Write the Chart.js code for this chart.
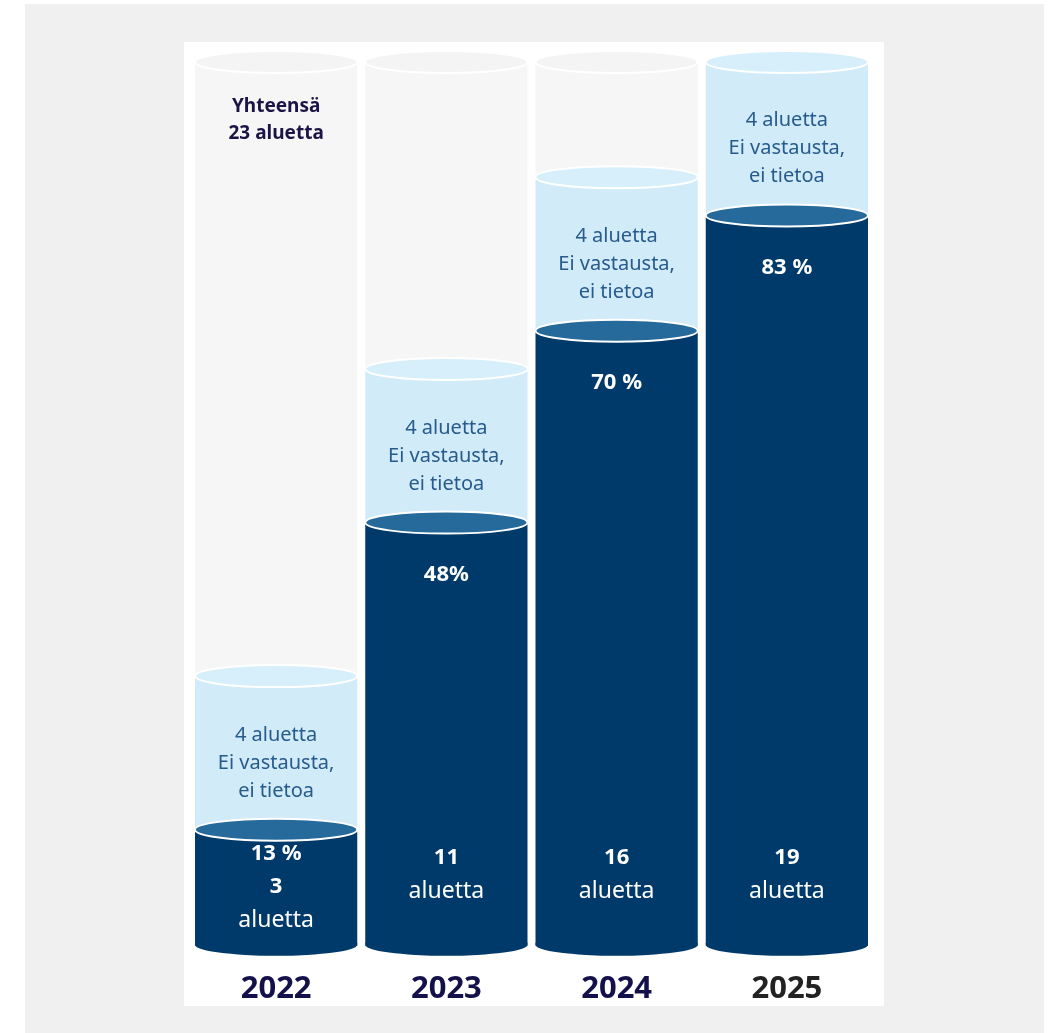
<!DOCTYPE html>
<html lang="fi">
<head>
<meta charset="utf-8">
<title>Alueet 2022–2025</title>
<script src="https://cdn.jsdelivr.net/npm/chart.js@4.4.1/dist/chart.umd.min.js"></script>
<style>
  html, body { margin: 0; padding: 0; background: #ffffff; }
  #frame {
    position: absolute; left: 25px; top: 4px; width: 1019px; height: 1029px;
    background: #f0f0f0;
  }
  #panel {
    position: absolute; left: 184px; top: 42px; width: 700px; height: 964px;
    background: #ffffff;
  }
</style>
</head>
<body>
<div id="frame"></div>
<div id="panel"><canvas id="cylChart"></canvas></div>
<script>
// Vuodet ja alueiden määrät
var years = ["2022", "2023", "2024", "2025"];
var total = 23;
var answered = [3, 11, 16, 19];
var noAnswer = [4, 4, 4, 4];
var percentLabels = ["13 %", "48%", "70 %", "83 %"];

// loput kokonaismäärästä
var rest = years.map(function (y, i) { return total - answered[i] - noAnswer[i]; });

var DARK = "#003a6b";
var DARK_CAP = "#256a9a";
var LIGHT = "#d1ebf9";
var LIGHT_CAP = "#d6effb";
var GRAY = "#f6f6f6";
var GRAY_CAP = "#f4f4f4";

var capColors = [DARK_CAP, LIGHT_CAP, GRAY_CAP];
var RY = 11;

function ellipse(c, x, y, rx, ry) {
  c.beginPath();
  c.ellipse(x, y, rx, ry, 0, 0, Math.PI * 2);
}

// sylinterin kannet ja pohjat
var cylinders = {
  id: "cylinders",
  afterDatasetsDraw: function (chart) {
    var c = chart.ctx;
    c.save();
    var n = chart.data.labels.length;
    for (var i = 0; i < n; i++) {
      // pohja
      var base = chart.getDatasetMeta(0).data[i];
      var rx = base.width / 2;
      c.fillStyle = DARK;
      c.fillRect(base.x - rx, base.base - 2, rx * 2, 3);
      c.beginPath();
      c.ellipse(base.x, base.base, rx, RY, 0, 0, Math.PI);
      c.fill();
      // kannet alhaalta ylös
      for (var d = 0; d < chart.data.datasets.length; d++) {
        var v = chart.data.datasets[d].data[i];
        if (!v) continue;
        var el = chart.getDatasetMeta(d).data[i];
        ellipse(c, el.x, el.y, rx, RY);
        c.fillStyle = capColors[d];
        c.fill();
        c.lineWidth = 2;
        c.strokeStyle = "#ffffff";
        c.stroke();
      }
    }
    c.restore();
  }
};

// tekstit sylintereissä
var texts = {
  id: "texts",
  afterDraw: function (chart) {
    var c = chart.ctx;
    c.save();
    c.textAlign = "center";
    c.textBaseline = "middle";
    var dark = chart.getDatasetMeta(0).data;
    var light = chart.getDatasetMeta(1).data;
    var top = chart.getDatasetMeta(2).data;

    // yhteensä
    c.fillStyle = "#1b1446";
    c.font = "bold 19px 'Noto Sans'";
    c.fillText("Yhteensä", top[0].x, top[0].y + 45);
    c.fillText(total + " aluetta", top[0].x, top[0].y + 72);

    for (var i = 0; i < dark.length; i++) {
      var x = dark[i].x;
      // ei vastausta
      var mid = (light[i].y + light[i].base) / 2 + 10;
      c.fillStyle = "#265b8c";
      c.font = "20px 'Noto Sans'";
      c.fillText(noAnswer[i] + " aluetta", x, mid - 28);
      c.fillText("Ei vastausta,", x, mid);
      c.fillText("ei tietoa", x, mid + 28);

      // vastanneet
      c.fillStyle = "#ffffff";
      var b = dark[i].base;
      var t = dark[i].y;
      if (b - t < 200) {
        var m = (b + t) / 2;
        c.font = "bold 22px 'Noto Sans'";
        c.fillText(percentLabels[i], x, m - 33);
        c.fillText(String(answered[i]), x, m);
        c.font = "23px 'Noto Sans'";
        c.fillText("aluetta", x, m + 33);
      } else {
        c.font = "bold 22px 'Noto Sans'";
        c.fillText(percentLabels[i], x, t + 52);
        c.fillText(String(answered[i]), x, b - 87);
        c.font = "23px 'Noto Sans'";
        c.fillText("aluetta", x, b - 53);
      }
    }
    c.restore();
  }
};

var ctx = document.getElementById("cylChart").getContext("2d");

new Chart(ctx, {
  type: "bar",
  data: {
    labels: years,
    datasets: [
      { data: answered, backgroundColor: DARK },
      { data: noAnswer, backgroundColor: LIGHT },
      { data: rest, backgroundColor: GRAY }
    ]
  },
  options: {
    responsive: true,
    maintainAspectRatio: false,
    animation: false,
    layout: { padding: { left: 7, right: 12, top: 20, bottom: -20 } },
    datasets: {
      bar: { barPercentage: 0.953, categoryPercentage: 1, borderWidth: 0 }
    },
    plugins: {
      legend: { display: false },
      tooltip: { enabled: false }
    },
    scales: {
      x: {
        stacked: true,
        grid: { display: false },
        border: { display: false },
        ticks: {
          padding: 18,
          font: { family: "Noto Sans", size: 31, weight: "bold" },
          color: function (c) { return c.index === 3 ? "#222222" : "#14104a"; }
        }
      },
      y: {
        stacked: true,
        display: false,
        min: 0,
        max: total
      }
    }
  },
  plugins: [cylinders, texts]
});
</script>
</body>
</html>
